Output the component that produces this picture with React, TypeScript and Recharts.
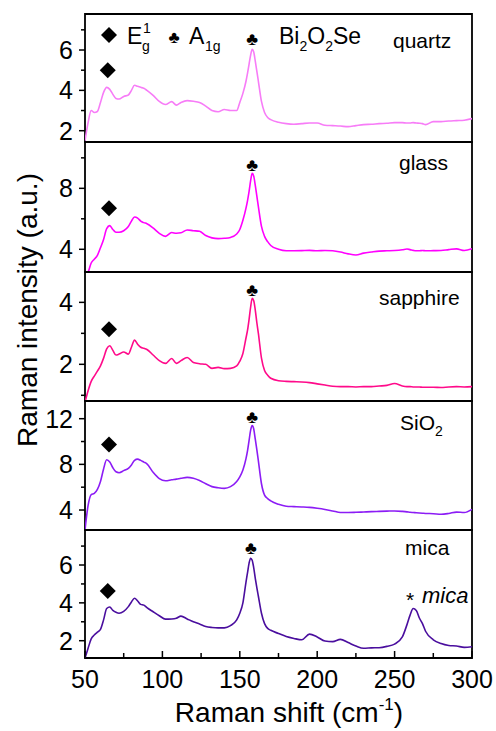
import { LineChart, Line, XAxis, YAxis, ReferenceArea, ReferenceDot } from "recharts"

// Raman shift (cm-1), finer steps around the peaks
const ramanShift = [
  50, 52, 54, 56, 58, 60, 62, 64, 66, 68,
  70, 72, 75, 78, 80, 82, 84, 86, 88, 90,
  94, 98, 102, 106, 109, 112, 116, 120, 124, 128,
  132, 136, 140, 144, 148, 150, 152, 154, 155, 156,
  157, 158, 159, 160, 161, 162, 164, 166, 168, 170,
  175, 180, 185, 190, 195, 200, 205, 210, 215, 220,
  225, 230, 235, 240, 245, 250, 255, 258, 260, 262,
  264, 266, 268, 270, 275, 280, 285, 290, 295, 300,
]

const quartz = [
  1.5, 2.4, 3.0, 2.9, 2.95, 3.4, 3.9, 4.15, 4.05, 3.8,
  3.6, 3.57, 3.7, 3.77, 4.0, 4.25, 4.2, 4.15, 4.1, 4.0,
  3.75, 3.45, 3.3, 3.44, 3.27, 3.4, 3.49, 3.46, 3.4, 3.22,
  3.0, 2.94, 3.05, 3.0, 3.0, 3.4, 3.85, 4.45, 4.85, 5.3,
  5.75, 6.03, 5.9, 5.45, 4.95, 4.45, 3.45, 2.9, 2.65, 2.55,
  2.42, 2.35, 2.32, 2.35, 2.38, 2.38, 2.27, 2.25, 2.23, 2.2,
  2.25, 2.3, 2.32, 2.35, 2.37, 2.4, 2.4, 2.38, 2.38, 2.4,
  2.38, 2.37, 2.35, 2.3, 2.45, 2.45, 2.48, 2.5, 2.52, 2.6,
]

const glass = [
  2.2, 2.5, 3.1, 3.35, 3.6, 4.1, 4.65, 5.35, 5.55, 5.3,
  5.12, 5.12, 5.22, 5.5, 5.85, 6.12, 6.05, 5.85, 5.75, 5.68,
  5.4, 5.05, 4.85, 5.1, 5.05, 5.08, 5.27, 5.22, 5.18, 4.9,
  4.75, 4.7, 4.72, 4.78, 5.0, 5.3, 5.9, 6.7, 7.2, 7.8,
  8.5, 8.98, 8.8, 8.2, 7.5, 6.8, 5.5, 4.85, 4.5, 4.25,
  4.0, 3.9, 3.9, 3.91, 3.93, 3.9, 3.92, 3.9, 3.82, 3.7,
  3.63, 3.75, 3.82, 3.88, 3.9, 3.92, 3.97, 4.02, 3.98, 3.93,
  3.9, 3.9, 3.92, 3.9, 3.91, 3.92, 3.98, 4.03, 3.92, 4.04,
]

const sapphire = [
  0.78, 1.15, 1.45, 1.62, 1.78, 1.95, 2.2, 2.5, 2.6, 2.45,
  2.3, 2.33, 2.4, 2.33, 2.55, 2.78, 2.65, 2.55, 2.52, 2.48,
  2.3, 2.12, 2.03, 2.19, 2.03, 2.12, 2.22, 2.06, 2.02, 2.0,
  1.87, 1.9, 1.86, 1.87, 1.95, 2.1, 2.35, 2.85, 3.1, 3.45,
  3.85, 4.13, 4.05, 3.75, 3.35, 3.0, 2.2, 1.8, 1.65, 1.55,
  1.47, 1.45, 1.44, 1.43, 1.41, 1.37, 1.33, 1.29, 1.28, 1.28,
  1.27, 1.28, 1.28, 1.3, 1.32, 1.38, 1.3, 1.28, 1.28, 1.27,
  1.27, 1.27, 1.26, 1.26, 1.26, 1.25, 1.27, 1.28, 1.27, 1.28,
]

const sio2 = [
  2.25, 4.4, 5.35, 5.45, 5.8, 6.5, 7.6, 8.4, 8.2, 7.7,
  7.35, 7.27, 7.45, 7.65, 7.95, 8.35, 8.46, 8.35, 8.2, 8.05,
  7.3, 6.75, 6.56, 6.65, 6.71, 6.78, 6.86, 6.78, 6.58, 6.3,
  6.05, 5.95, 5.9, 6.05, 6.5, 6.9, 7.5, 8.5, 9.2, 10.1,
  11.0, 11.4, 11.1, 10.2, 9.3, 8.3, 6.3, 5.3, 5.0, 4.8,
  4.5, 4.33, 4.3, 4.27, 4.23, 4.15, 4.05, 3.92, 3.78, 3.78,
  3.8, 3.83, 3.86, 3.88, 3.9, 3.92, 3.88, 3.84, 3.8, 3.78,
  3.76, 3.74, 3.72, 3.7, 3.68, 3.63, 3.7, 3.82, 3.78, 4.06,
]

const mica = [
  1.08, 1.6, 2.1, 2.3, 2.45, 2.6, 3.1, 3.7, 3.78, 3.6,
  3.5, 3.45, 3.55, 3.8, 4.05, 4.24, 4.1, 3.92, 3.88, 3.75,
  3.53, 3.32, 3.14, 3.15, 3.19, 3.3, 3.15, 3.0, 2.88, 2.75,
  2.7, 2.68, 2.68, 2.8, 3.1, 3.45, 4.0, 5.1, 5.6, 6.1,
  6.36, 6.25, 5.85, 5.3, 4.8, 4.35, 3.45, 2.9, 2.65, 2.55,
  2.38, 2.22, 2.12, 2.05, 2.35, 2.2, 1.98, 1.95, 2.07, 1.9,
  1.72, 1.6, 1.62, 1.63, 1.7, 1.82, 2.2, 2.85, 3.35, 3.7,
  3.6, 3.2, 2.9, 2.5, 2.05, 1.85, 1.75, 1.72, 1.65, 1.68,
]

const xTicks = [50, 75, 100, 125, 150, 175, 200, 225, 250, 275, 300]
const xLabels = [50, 100, 150, 200, 250, 300]

// E1g (diamond) and A1g (club) marker positions per panel, data coords
const diamondMarks = [[64.7, 5.0], [65.5, 6.69], [65.5, 3.13], [65.5, 9.75], [64.7, 4.63]]
const clubMarks = [[158, 6.55], [158, 9.57], [158, 4.42], [158, 12.17], [157.1, 6.94]]

const rows = ramanShift.map((x, i) => ({
  x,
  quartz: quartz[i],
  glass: glass[i],
  sapphire: sapphire[i],
  sio2: sio2[i],
  mica: mica[i],
}))

const panels = [
  { key: "quartz", color: "#f77cf7", top: 14, h: 128, domain: [1.44, 7.785], ticks: [2, 3, 4, 5, 6, 7], labels: [2, 4, 6] },
  { key: "glass", color: "#ff00ff", top: 142, h: 130, domain: [2.51, 11.04], ticks: [4, 6, 8, 10], labels: [4, 8] },
  { key: "sapphire", color: "#ff0a8a", top: 272, h: 129, domain: [0.816, 4.98], ticks: [1, 2, 3, 4], labels: [2, 4] },
  { key: "sio2", color: "#8c1cf5", top: 401, h: 129, domain: [2.25, 13.55], ticks: [4, 6, 8, 10, 12], labels: [4, 8, 12] },
  { key: "mica", color: "#4a0e9e", top: 530, h: 128, domain: [1.086, 7.85], ticks: [2, 3, 4, 5, 6, 7], labels: [2, 4, 6] },
]

const FONT = "Arial, 'Liberation Sans', sans-serif"

function XTick(props: any) {
  const { x, y, payload, showLabel } = props
  const v = payload.value
  const major = xLabels.includes(v)
  return (
    <g>
      <line x1={x} x2={x} y1={y} y2={y - (major ? 7 : 5)} stroke="#000" strokeWidth={1.5} />
      {showLabel && major && (
        <text x={x} y={y + 30} textAnchor="middle" fontSize={25} fill="#000" fontFamily={FONT}>
          {v}
        </text>
      )}
    </g>
  )
}

function YTick(props: any) {
  const { x, y, payload, labels } = props
  const v = payload.value
  const major = labels.includes(v)
  return (
    <g>
      <line x1={x - (major ? 6 : 4)} x2={x} y1={y} y2={y} stroke="#000" strokeWidth={1.5} />
      {major && (
        <text x={x - 12} y={y + 9} textAnchor="end" fontSize={25} fill="#000" fontFamily={FONT}>
          {v}
        </text>
      )}
    </g>
  )
}

const diamondShape = (p: any) => (
  <polygon
    points={`${p.cx},${p.cy - 8} ${p.cx + 8},${p.cy} ${p.cx},${p.cy + 8} ${p.cx - 8},${p.cy}`}
    fill="#000"
  />
)

const clubShape = (p: any) => (
  <text x={p.cx} y={p.cy} dy="0.36em" textAnchor="middle" fontSize={18} fill="#000">
    ♣
  </text>
)

export default function App() {
  return (
    <div style={{ position: "absolute", left: 0, top: 0, width: 496, height: 731, background: "#fff", fontFamily: FONT }}>
      {panels.map((p, i) => {
        const last = i === panels.length - 1
        return (
          <div key={p.key} style={{ position: "absolute", left: 0, top: p.top - 2 }}>
            <LineChart
              width={496}
              height={p.h + 2 + (last ? 44 : 2)}
              data={rows}
              margin={{ top: 2, right: 24, bottom: last ? 0 : 2, left: 0 }}
            >
              <XAxis
                type="number"
                dataKey="x"
                domain={[50, 300]}
                ticks={xTicks}
                interval={0}
                allowDataOverflow
                axisLine={false}
                tickLine={false}
                tickSize={0}
                tickMargin={0}
                height={last ? 44 : 0}
                tick={(t: any) => <XTick {...t} showLabel={last} />}
              />
              <YAxis
                type="number"
                domain={p.domain}
                ticks={p.ticks}
                interval={0}
                allowDataOverflow
                axisLine={false}
                tickLine={false}
                tickSize={0}
                tickMargin={0}
                width={85}
                tick={(t: any) => <YTick {...t} labels={p.labels} />}
              />
              <ReferenceArea
                x1={50}
                x2={300}
                y1={p.domain[0]}
                y2={p.domain[1]}
                fill="none"
                fillOpacity={0}
                stroke="#000"
                strokeWidth={1.8}
                ifOverflow="visible"
              />
              <Line
                type="monotone"
                dataKey={p.key}
                stroke={p.color}
                strokeWidth={1.6}
                dot={false}
                isAnimationActive={false}
              />
              <ReferenceDot x={diamondMarks[i][0]} y={diamondMarks[i][1]} r={8} shape={diamondShape} ifOverflow="visible" />
              <ReferenceDot x={clubMarks[i][0]} y={clubMarks[i][1]} r={6} shape={clubShape} ifOverflow="visible" />
            </LineChart>
          </div>
        )
      })}

      <svg width={496} height={731} style={{ position: "absolute", left: 0, top: 0, pointerEvents: "none" }} fontFamily={FONT}>
        {/* legend row of the top panel */}
        <polygon points="109,27 117,35 109,43 101,35" fill="#000" />
        <text x={127} y={44} fontSize={23}>E</text>
        <text x={143} y={33} fontSize={14}>1</text>
        <text x={142} y={51} fontSize={14}>g</text>
        <text x={174} y={37} dy="0.36em" textAnchor="middle" fontSize={17}>♣</text>
        <text x={189} y={44} fontSize={23}>A</text>
        <text x={205} y={51} fontSize={14}>1g</text>
        <text x={279} y={44} fontSize={23}>
          Bi<tspan fontSize={14} dy={7}>2</tspan>
          <tspan dy={-7}>O</tspan>
          <tspan fontSize={14} dy={7}>2</tspan>
          <tspan dy={-7}>Se</tspan>
        </text>

        {/* substrate names */}
        <text x={393} y={48} fontSize={21}>quartz</text>
        <text x={399} y={170} fontSize={21}>glass</text>
        <text x={379} y={305} fontSize={21}>sapphire</text>
        <text x={400} y={430} fontSize={21}>
          SiO<tspan fontSize={14} dy={6}>2</tspan>
        </text>
        <text x={405} y={555} fontSize={21}>mica</text>
        <text x={406} y={607} fontSize={21}>*</text>
        <text x={422} y={603} fontSize={22} fontStyle="italic">mica</text>

        {/* axis titles */}
        <text x={289} y={722} textAnchor="middle" fontSize={28}>
          Raman shift (cm<tspan fontSize={17} dy={-12}>-1</tspan>
          <tspan dy={12}>)</tspan>
        </text>
        <text transform="rotate(-90)" x={-310} y={37} textAnchor="middle" fontSize={28}>
          Raman intensity (a.u.)
        </text>
      </svg>
    </div>
  )
}
